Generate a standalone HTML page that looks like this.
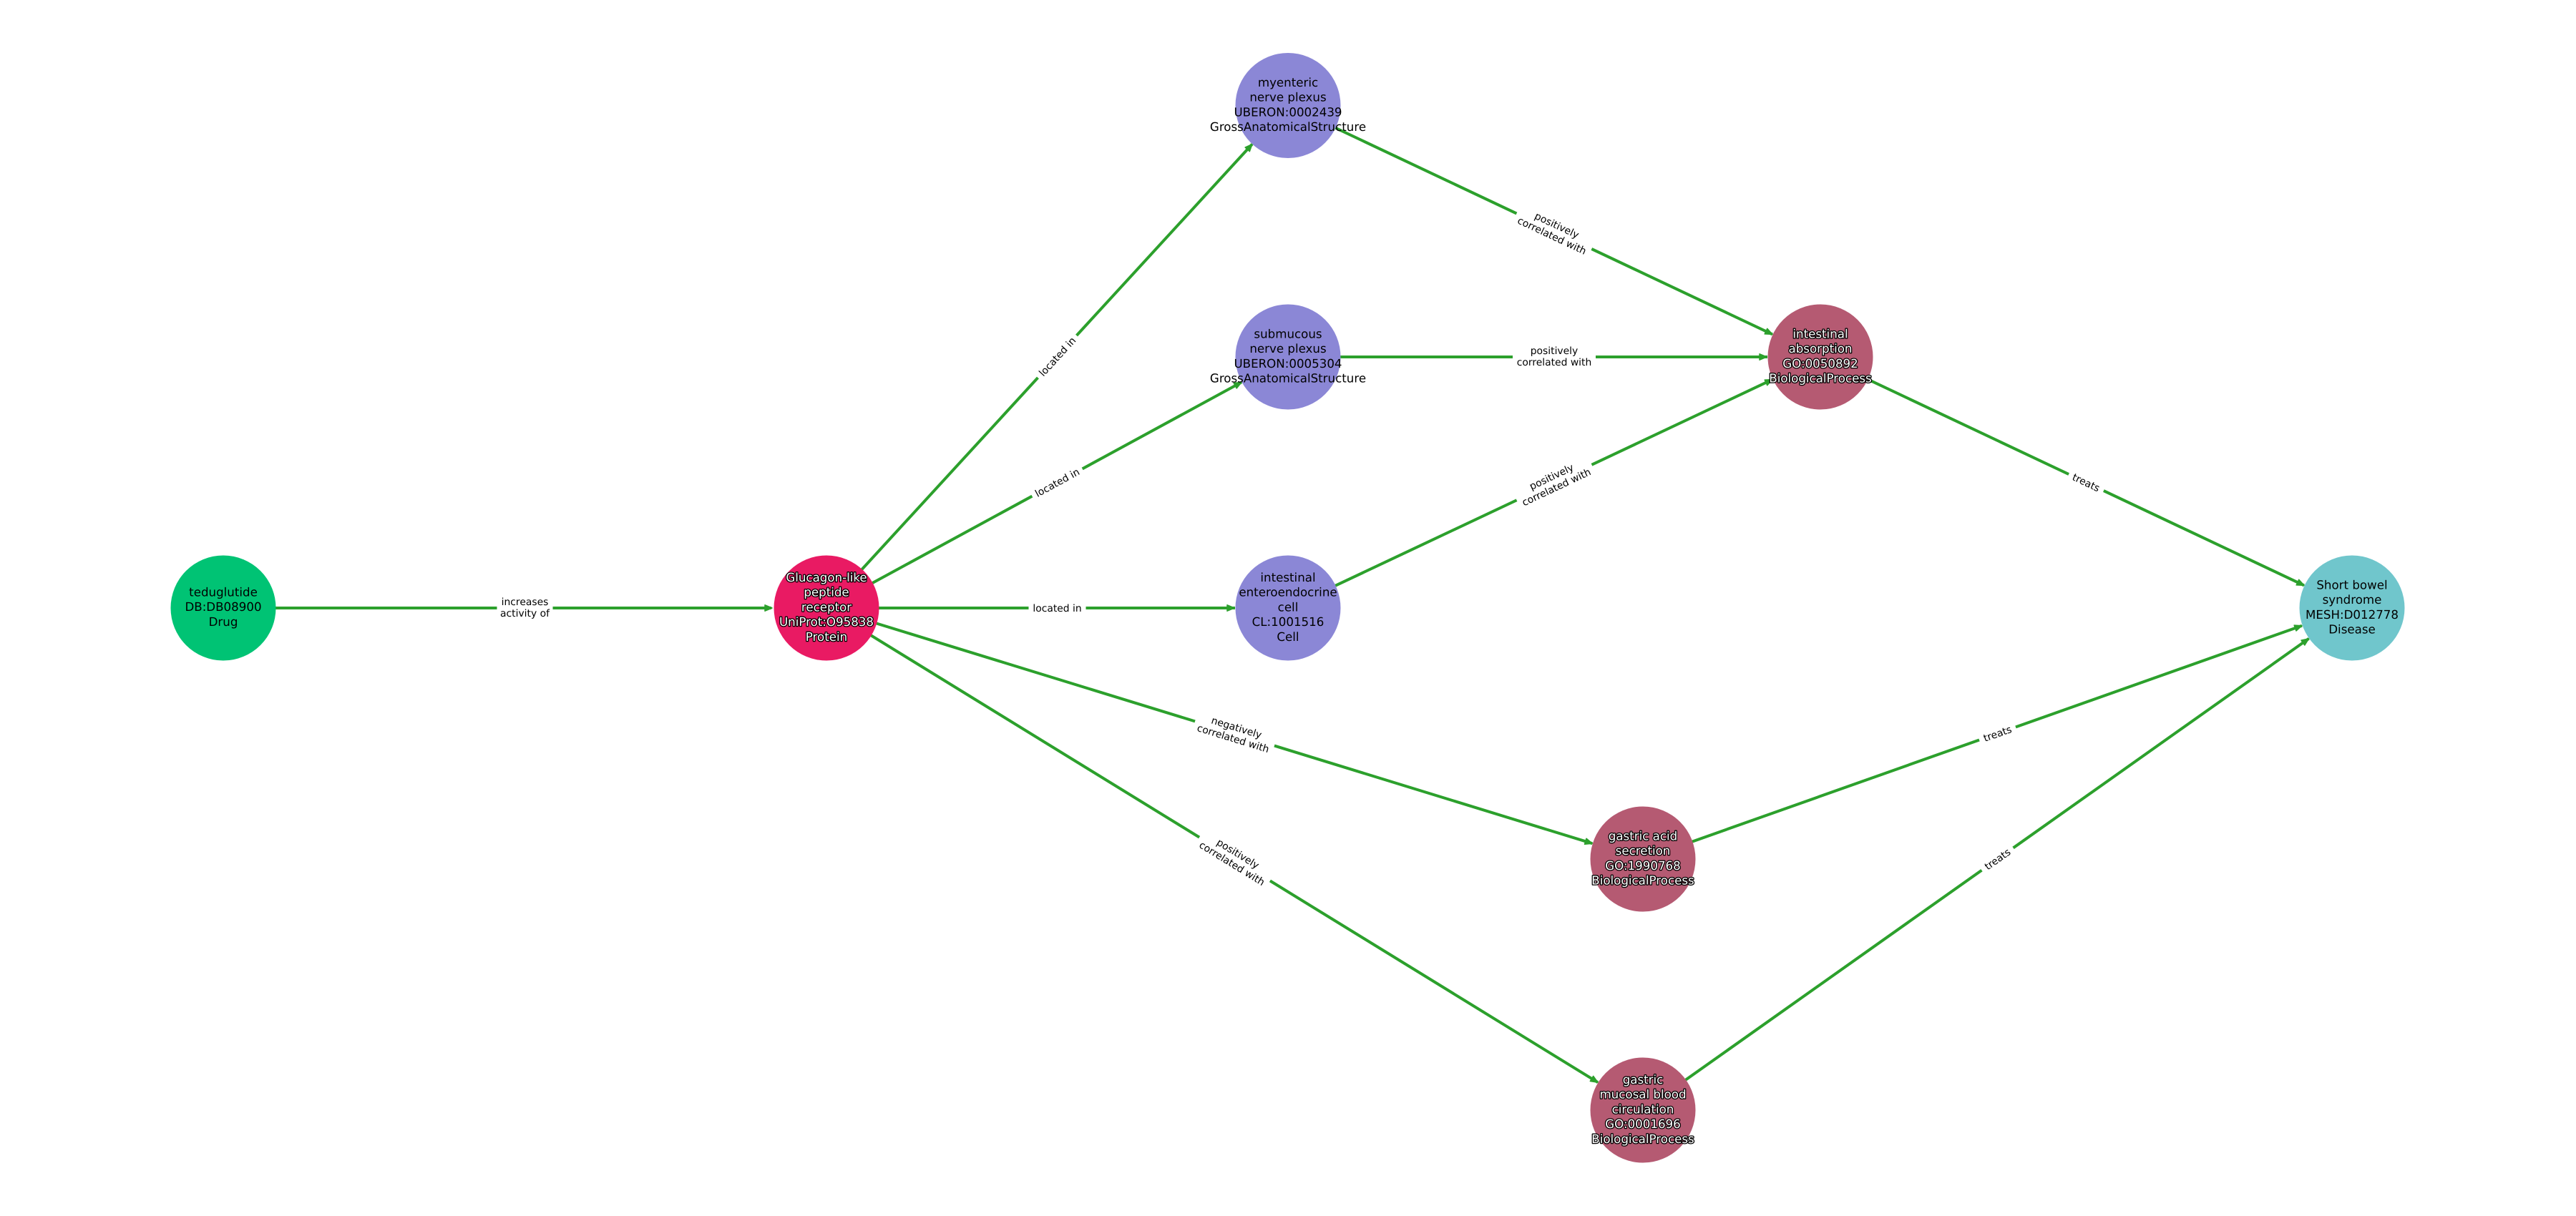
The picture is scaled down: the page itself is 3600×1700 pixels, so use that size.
<!DOCTYPE html>
<html><head><meta charset="utf-8"><style>
html,body{margin:0;padding:0;background:#fff}
svg{display:block}
text{font-family:"DejaVu Sans",sans-serif;text-anchor:middle;text-rendering:geometricPrecision}
.n text{font-size:16.67px;fill:#000}
.w text{fill:#fff;stroke:#000;stroke-width:2.6px;paint-order:stroke;stroke-linejoin:round}
.e text{font-size:13.89px;fill:#000}
.l line{stroke:#2ca02c;stroke-width:4}
.a path{fill:#2ca02c;stroke:#2ca02c;stroke-width:1.5;stroke-linejoin:round}
</style></head><body>
<svg width="3600" height="1700" viewBox="0 0 3600 1700" xmlns="http://www.w3.org/2000/svg">
<rect width="3600" height="1700" fill="#fff"/>
<g class="l">
<line x1="312" y1="850" x2="1078" y2="850"/>
<line x1="1155" y1="850" x2="1750" y2="201.5"/>
<line x1="1155" y1="850" x2="1735" y2="534.4"/>
<line x1="1155" y1="850" x2="1726" y2="850"/>
<line x1="1155" y1="850" x2="2225.3" y2="1179.2"/>
<line x1="1155" y1="850" x2="2233" y2="1513.2"/>
<line x1="1800" y1="147.5" x2="2477" y2="467.4"/>
<line x1="1800" y1="499" x2="2470" y2="499"/>
<line x1="1800" y1="850" x2="2477" y2="530.6"/>
<line x1="2544" y1="499" x2="3220" y2="818.4"/>
<line x1="2296" y1="1201" x2="3217" y2="874.7"/>
<line x1="2296" y1="1552" x2="3226.6" y2="892.8"/>
</g>
<g class="a">
<path d="M0,0L-10,-4.2L-10,4.2Z" transform="translate(1079,850)"/>
<path d="M0,0L-10,-4.2L-10,4.2Z" transform="translate(1750,201.5) rotate(-47.5)"/>
<path d="M0,0L-10,-4.2L-10,4.2Z" transform="translate(1735,534.4) rotate(-28.6)"/>
<path d="M0,0L-10,-4.2L-10,4.2Z" transform="translate(1725,850)"/>
<path d="M0,0L-10,-4.2L-10,4.2Z" transform="translate(2225.3,1179.2) rotate(17.1)"/>
<path d="M0,0L-10,-4.2L-10,4.2Z" transform="translate(2233,1513.2) rotate(31.6)"/>
<path d="M0,0L-10,-4.2L-10,4.2Z" transform="translate(2477,467.4) rotate(25.3)"/>
<path d="M0,0L-10,-4.2L-10,4.2Z" transform="translate(2469,499)"/>
<path d="M0,0L-10,-4.2L-10,4.2Z" transform="translate(2477,530.6) rotate(-25.3)"/>
<path d="M0,0L-10,-4.2L-10,4.2Z" transform="translate(3220,818.4) rotate(25.3)"/>
<path d="M0,0L-10,-4.2L-10,4.2Z" transform="translate(3217,874.7) rotate(-19.5)"/>
<path d="M0,0L-10,-4.2L-10,4.2Z" transform="translate(3226.6,892.8) rotate(-35.3)"/>
</g>
<g class="e">
<g transform="translate(733.5,850)"><rect x="-39" y="-22" width="78" height="44" fill="#fff"/><text y="-4">increases</text><text y="12">activity of</text></g>
<g transform="translate(1477.5,498.5) rotate(-47.5)"><rect x="-40" y="-13" width="80" height="26" fill="#fff"/><text y="5">located in</text></g>
<g transform="translate(1477.5,674.5) rotate(-28.6)"><rect x="-40" y="-13" width="80" height="26" fill="#fff"/><text y="5">located in</text></g>
<g transform="translate(1477.5,850)"><rect x="-40" y="-13" width="80" height="26" fill="#fff"/><text y="5">located in</text></g>
<g transform="translate(1725.5,1025.5) rotate(17.1)"><rect x="-58" y="-22" width="116" height="44" fill="#fff"/><text y="-4">negatively</text><text y="12">correlated with</text></g>
<g transform="translate(1725.5,1201) rotate(31.6)"><rect x="-58" y="-22" width="116" height="44" fill="#fff"/><text y="-4">positively</text><text y="12">correlated with</text></g>
<g transform="translate(2172,323) rotate(25.3)"><rect x="-58" y="-22" width="116" height="44" fill="#fff"/><text y="-4">positively</text><text y="12">correlated with</text></g>
<g transform="translate(2172,499)"><rect x="-58" y="-22" width="116" height="44" fill="#fff"/><text y="-4">positively</text><text y="12">correlated with</text></g>
<g transform="translate(2172,674.5) rotate(-25.3)"><rect x="-58" y="-22" width="116" height="44" fill="#fff"/><text y="-4">positively</text><text y="12">correlated with</text></g>
<g transform="translate(2915.5,674.5) rotate(25.3)"><rect x="-27" y="-13" width="54" height="26" fill="#fff"/><text y="5">treats</text></g>
<g transform="translate(2791.5,1025.5) rotate(-19.5)"><rect x="-27" y="-13" width="54" height="26" fill="#fff"/><text y="5">treats</text></g>
<g transform="translate(2791.5,1201) rotate(-35.3)"><rect x="-27" y="-13" width="54" height="26" fill="#fff"/><text y="5">treats</text></g>
</g>
<g>
<circle cx="312" cy="850" r="73.5" fill="#00c374"/>
<circle cx="1155" cy="850" r="73.5" fill="#e91a63"/>
<circle cx="1800" cy="147.5" r="73.5" fill="#8b87d6"/>
<circle cx="1800" cy="499" r="73.5" fill="#8b87d6"/>
<circle cx="1800" cy="850" r="73.5" fill="#8b87d6"/>
<circle cx="2544" cy="499" r="73.5" fill="#b55a72"/>
<circle cx="2296" cy="1201" r="73.5" fill="#b55a72"/>
<circle cx="2296" cy="1552" r="73.5" fill="#b55a72"/>
<circle cx="3287" cy="850" r="73.5" fill="#70c6cc"/>
</g>
<g class="n">
<text x="312" y="833.4">teduglutide</text><text x="312" y="854.2">DB:DB08900</text><text x="312" y="875">Drug</text>
<text x="1800" y="120.8">myenteric</text><text x="1800" y="141.6">nerve plexus</text><text x="1800" y="162.4">UBERON:0002439</text><text x="1800" y="183.2">GrossAnatomicalStructure</text>
<text x="1800" y="472.3">submucous</text><text x="1800" y="493.1">nerve plexus</text><text x="1800" y="513.9">UBERON:0005304</text><text x="1800" y="534.7">GrossAnatomicalStructure</text>
<text x="1800" y="812.8">intestinal</text><text x="1800" y="833.6">enteroendocrine</text><text x="1800" y="854.4">cell</text><text x="1800" y="875.2">CL:1001516</text><text x="1800" y="896">Cell</text>
<text x="3287" y="823.3">Short bowel</text><text x="3287" y="844.1">syndrome</text><text x="3287" y="864.9">MESH:D012778</text><text x="3287" y="885.7">Disease</text>
</g>
<g class="n w">
<text x="1155" y="812.8">Glucagon-like</text><text x="1155" y="833.6">peptide</text><text x="1155" y="854.4">receptor</text><text x="1155" y="875.2">UniProt:O95838</text><text x="1155" y="896">Protein</text>
<text x="2544" y="472.3">intestinal</text><text x="2544" y="493.1">absorption</text><text x="2544" y="513.9">GO:0050892</text><text x="2544" y="534.7">BiologicalProcess</text>
<text x="2296" y="1174.3">gastric acid</text><text x="2296" y="1195.1">secretion</text><text x="2296" y="1215.9">GO:1990768</text><text x="2296" y="1236.7">BiologicalProcess</text>
<text x="2296" y="1514.8">gastric</text><text x="2296" y="1535.6">mucosal blood</text><text x="2296" y="1556.4">circulation</text><text x="2296" y="1577.2">GO:0001696</text><text x="2296" y="1598">BiologicalProcess</text>
</g>
</svg>
</body></html>
